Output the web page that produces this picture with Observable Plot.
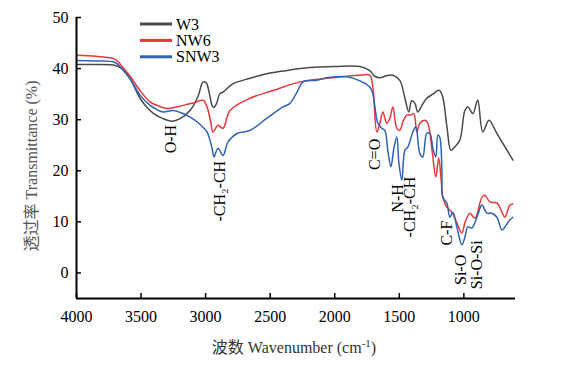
<!DOCTYPE html>
<html><head><meta charset="utf-8">
<script src="https://cdn.jsdelivr.net/npm/d3@7"></script>
<script src="https://cdn.jsdelivr.net/npm/@observablehq/plot@0.6"></script>
<style>body{margin:0;background:#fff} svg{display:block}</style>
</head><body><div id="chart"></div>
<script>
const seriesNames = ["W3", "NW6", "SNW3"];
const seriesColors = ["#4a4a4a", "#e5383b", "#2f62b2"];

// [wavenumber (cm-1), transmittance (%)]
const W3 = [[4000,40.8],[3850,40.8],[3700,40.6],[3650,40.0],[3585,38.0],[3508,34.2],[3450,32.3],[3407,31.3],[3330,30.2],[3260,29.7],[3198,30.2],[3121,31.8],[3060,34.5],[3020,37.4],[2995,37.2],[2970,35.0],[2950,32.8],[2935,32.4],[2915,33.2],[2890,35.1],[2865,35.4],[2790,37.0],[2656,38.1],[2525,39.0],[2380,39.6],[2191,40.2],[2000,40.4],[1805,40.4],[1728,39.6],[1690,38.5],[1650,38.2],[1600,38.6],[1550,38.7],[1496,37.7],[1458,34.4],[1427,31.5],[1404,33.7],[1379,33.2],[1357,31.5],[1320,33.0],[1287,34.2],[1240,35.0],[1202,35.7],[1187,35.7],[1163,34.4],[1131,28.6],[1100,24.0],[1070,24.7],[1031,26.0],[992,31.8],[969,32.5],[930,31.2],[900,33.5],[891,33.8],[853,27.6],[806,29.9],[744,27.3],[682,24.7],[620,22.1]];
const NW6 = [[4000,42.6],[3850,42.4],[3700,41.8],[3650,40.5],[3585,38.5],[3508,35.7],[3430,33.5],[3376,32.8],[3299,32.2],[3175,32.8],[3090,33.3],[3020,33.8],[2989,32.5],[2960,29.5],[2943,27.6],[2904,28.9],[2865,28.3],[2811,31.8],[2656,34.2],[2478,35.7],[2269,37.4],[2060,38.1],[1805,38.7],[1728,38.7],[1705,36.4],[1674,27.6],[1650,29.3],[1627,31.5],[1597,29.3],[1573,30.3],[1550,32.5],[1519,28.3],[1496,27.9],[1472,29.6],[1441,30.9],[1410,30.9],[1387,31.2],[1364,27.6],[1341,29.3],[1302,29.9],[1279,29.3],[1248,24.4],[1217,18.8],[1195,22.5],[1175,18.0],[1163,14.8],[1132,12.9],[1093,11.9],[1054,9.8],[1015,7.8],[992,9.8],[953,11.7],[914,10.7],[860,14.8],[837,15.2],[798,13.9],[744,13.7],[705,11.9],[682,10.9],[643,13.3],[620,13.5]];
const SNW3 = [[4000,41.6],[3850,41.5],[3700,41.2],[3650,40.0],[3585,38.0],[3508,34.8],[3430,32.8],[3392,32.2],[3330,31.5],[3252,31.8],[3175,31.2],[3121,30.5],[3067,29.6],[3020,28.5],[2989,27.6],[2950,24.4],[2935,22.7],[2904,24.4],[2865,23.0],[2827,25.6],[2757,27.3],[2656,27.9],[2525,30.3],[2401,32.5],[2347,33.2],[2292,35.4],[2245,37.4],[2137,37.7],[2060,38.2],[1905,38.4],[1805,37.6],[1728,36.4],[1705,35.1],[1689,32.5],[1666,29.3],[1635,28.3],[1612,27.9],[1589,24.0],[1565,20.8],[1542,24.4],[1519,26.6],[1503,21.5],[1480,18.2],[1457,24.0],[1433,24.7],[1395,27.6],[1372,28.6],[1341,23.4],[1318,22.7],[1287,27.3],[1263,27.3],[1240,24.4],[1217,22.7],[1201,27.0],[1186,26.5],[1170,20.0],[1163,14.8],[1132,13.7],[1108,10.9],[1085,11.9],[1054,9.0],[1015,5.5],[992,7.0],[969,9.0],[938,8.8],[899,10.9],[860,13.3],[822,11.7],[783,11.7],[744,10.9],[705,8.4],[682,9.0],[643,10.4],[620,10.9]];

const xTicks = [4000, 3500, 3000, 2500, 2000, 1500, 1000];
const yTicks = [0, 10, 20, 30, 40, 50];
const xDomain = [4000, 600];
const yDomain = [-5, 50];

const annLabels = ["O-H", "-CH\u2082-CH", "C=O", "N-H", "-CH\u2082-CH", "C-F", "Si-O", "Si-O-Si"];
const annWn = [3268, 2889, 1689, 1511, 1418, 1132, 1024, 899];
const annT = [26.2, 16.0, 23.2, 14.6, 12.9, 7.8, 0.6, 1.6];

const xTitle = ["波数 Wavenumber (cm", "-1", ")"];
const yTitle = "透过率 Transmittance (%)";

const rows = [];
[W3, NW6, SNW3].forEach((arr, i) => arr.forEach(([wn, t]) => rows.push({series: seriesNames[i], wn, t})));
const annotations = annLabels.map((label, i) => ({label, wn: annWn[i], t: annT[i]}));

const font = "Liberation Serif, Noto Sans CJK SC, serif";

const chart = Plot.plot({
  width: 562, height: 370,
  marginLeft: 76, marginRight: 47, marginTop: 17, marginBottom: 72,
  style: {fontFamily: font, fontSize: "16px", color: "#000", background: "#fff", overflow: "visible"},
  x: {domain: xDomain, label: null},
  y: {domain: yDomain, label: null},
  color: {domain: seriesNames, range: seriesColors},
  marks: [
    Plot.axisX({ticks: xTicks, tickSize: -5, tickPadding: 17, tickFormat: d => String(d), fontSize: 16, fontFamily: font, fontVariant: "normal", label: null, strokeWidth: 1.5}),
    Plot.axisY({ticks: yTicks, tickSize: -5, tickPadding: 13, tickFormat: d => String(d), fontSize: 16, fontFamily: font, fontVariant: "normal", label: null, strokeWidth: 1.5}),
    Plot.line(rows, {x: "wn", y: "t", z: "series", stroke: "series", strokeWidth: 1.5, curve: "catmull-rom"}),
    Plot.ruleX([xDomain[0]], {stroke: "#000", strokeWidth: 2}),
    Plot.ruleY([yDomain[0]], {stroke: "#000", strokeWidth: 2}),
    Plot.text(annotations, {x: "wn", y: "t", text: "label", rotate: -90, fontSize: 16, fontFamily: font, fill: "#000"})
  ]
});
document.getElementById("chart").appendChild(chart);

const svg = d3.select(chart);
// x title
const xt = svg.append("text").attr("x", 294).attr("y", 353).attr("text-anchor", "middle")
  .style("font-family", font).attr("font-size", 16).attr("fill", "#333");
xt.append("tspan").text(xTitle[0]);
xt.append("tspan").attr("font-size", 11).attr("dy", -6).text(xTitle[1]);
xt.append("tspan").attr("dy", 6).text(xTitle[2]);
// y title
svg.append("text").attr("transform", "translate(37,166) rotate(-90)").attr("text-anchor", "middle")
  .style("font-family", font).attr("font-size", 16).attr("fill", "#555").text(yTitle);
// legend
const lg = svg.append("g");
seriesNames.forEach((name, i) => {
  const y = 24 + i * 16.4;
  lg.append("line").attr("x1", 140).attr("x2", 172).attr("y1", y).attr("y2", y)
    .attr("stroke", seriesColors[i]).attr("stroke-width", 3);
  lg.append("text").attr("x", 176).attr("y", y + 5.5).attr("text-anchor", "start").style("font-family", font)
    .attr("font-size", 16).attr("fill", "#000").text(name);
});
</script></body></html>
